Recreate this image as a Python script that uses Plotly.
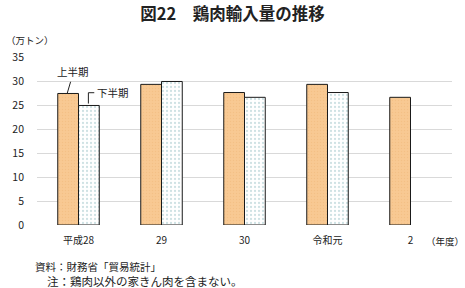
import plotly.graph_objects as go

categories = ["平成28", "29", "30", "令和元", "2"]
first_half = [27.4, 29.3, 27.6, 29.3, 26.6]
second_half = [24.9, 29.9, 26.6, 27.6, None]
y_ticks = [0, 5, 10, 15, 20, 25, 30, 35]

FONT = "Noto Sans CJK JP"

fig = go.Figure()
fig.add_trace(go.Bar(
    x=categories, y=first_half, name="上半期",
    marker=dict(color="#F8C993", line=dict(color="#1a1a1a", width=1),
                pattern=dict(shape=".", fgcolor="#EEB77A", bgcolor="#F8C993", size=3, solidity=0.2)),
))
fig.add_trace(go.Bar(
    x=categories, y=second_half, name="下半期",
    marker=dict(color="#FFFFFF", line=dict(color="#1a1a1a", width=1),
                pattern=dict(shape=".", fgcolor="#9DC3C8", bgcolor="#FFFFFF", size=4, solidity=0.25)),
))

fig.update_layout(
    width=465, height=288,
    margin=dict(l=32, r=13, t=57, b=63),
    paper_bgcolor="white", plot_bgcolor="white",
    barmode="group", bargap=0.5, bargroupgap=0,
    showlegend=False,
    font=dict(family=FONT, size=10, color="#222222"),
    title=dict(text="<b>図22　鶏肉輸入量の推移</b>", x=0.5, xanchor="center",
               yref="container", y=1 - 14 / 288, yanchor="middle",
               font=dict(family=FONT, size=16.5, color="#222222")),
)
fig.update_xaxes(showline=False, ticks="", showgrid=False,
                 ticklabelstandoff=8, tickfont=dict(size=10))
fig.update_yaxes(range=[0, 35], tickvals=y_ticks, showgrid=True, gridcolor="#D9D9D9",
                 gridwidth=1, zeroline=False, showline=False, ticks="",
                 ticklabelstandoff=12, tickfont=dict(size=10.5))

# callouts
fig.add_shape(type="line", xref="x", yref="y", x0=-0.135, y0=27.5, x1=-0.095, y1=29.85,
              line=dict(color="#222222", width=1))
fig.add_shape(type="line", xref="x", yref="y", x0=0.119, y0=25.3, x1=0.119, y1=27.56,
              line=dict(color="#222222", width=1))
fig.add_shape(type="line", xref="x", yref="y", x0=0.119, y0=27.56, x1=0.19, y1=27.56,
              line=dict(color="#222222", width=1))
fig.add_annotation(x=-0.07, y=31.9, xref="x", yref="y", text="上半期", showarrow=False,
                   font=dict(size=10.5))
fig.add_annotation(x=0.41, y=27.7, xref="x", yref="y", text="下半期", showarrow=False,
                   font=dict(size=10.5))

# axis unit labels and notes
fig.add_annotation(xref="paper", yref="paper", x=-33 / 420, y=(225 - 40) / 168,
                   text="（万トン）", showarrow=False, xanchor="left", yanchor="middle",
                   font=dict(size=9.5))
fig.add_annotation(xref="paper", yref="paper", x=(466 - 32) / 420, y=-(241 - 225) / 168,
                   text="（年度）", showarrow=False, xanchor="right", yanchor="middle",
                   font=dict(size=9.5))
fig.add_annotation(xref="paper", yref="paper", x=(28 - 32) / 420, y=-(266.5 - 225) / 168,
                   text="資料：財務省「貿易統計」", showarrow=False, xanchor="left", yanchor="middle",
                   font=dict(size=10.5))
fig.add_annotation(xref="paper", yref="paper", x=(40 - 32) / 420, y=-(280.5 - 225) / 168,
                   text="注：鶏肉以外の家きん肉を含まない。", showarrow=False, xanchor="left",
                   yanchor="middle", font=dict(size=11.5))

fig.write_html("out.html")
